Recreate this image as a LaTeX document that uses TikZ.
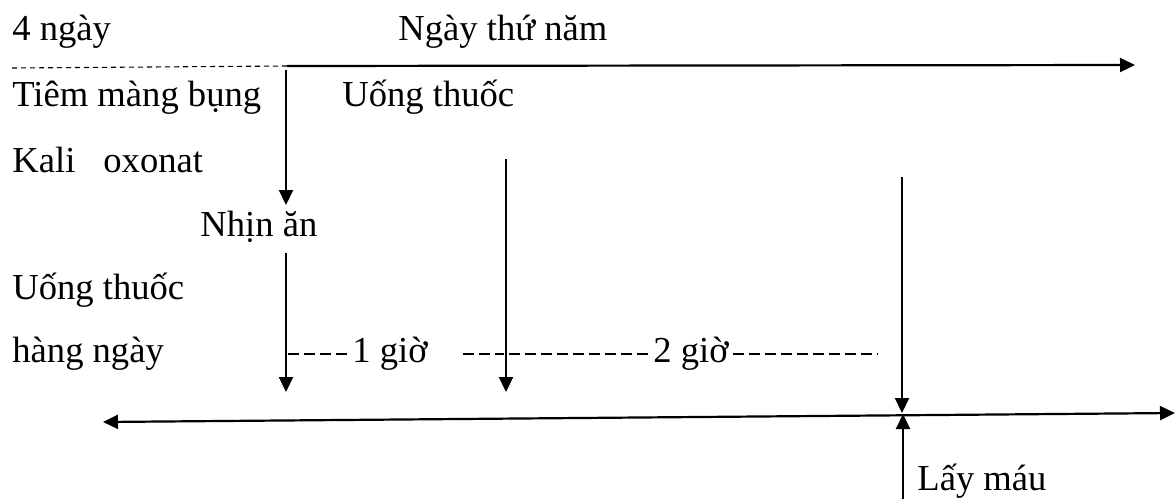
\documentclass[tikz,border=0pt]{standalone}
\usepackage{fontspec}
\setmainfont{Liberation Serif}
\newfontfamily\vietserif{Liberation Serif}
\usetikzlibrary{arrows.meta}
\tikzset{
  txt/.style={anchor=base west, inner sep=0pt, font=\vietserif\fontsize{18.3}{22}\selectfont},
  timeline/.style={-{Triangle[length=7.5pt,width=7pt]}, line width=1.1pt},
  bothline/.style={{Triangle[length=7.5pt,width=7pt]}-{Triangle[length=7.5pt,width=7pt]}, line width=1.1pt},
  stepedge/.style={-{Triangle[length=7.5pt,width=7pt]}, line width=1.1pt},
  prehead/.style={dash pattern=on 2.6pt off 1.9pt, line width=0.55pt},
  hyphens/.style={dash pattern=on 5.3pt off 2.7pt, line width=0.65pt}
}
\begin{document}
\begin{tikzpicture}[x=0.5pt, y=-0.5pt]
  \useasboundingbox (0,0) rectangle (1175,499);
  \node[txt] (fourdays) at (12,40) {4 ngày};
  \node[txt] (dayfive) at (398,40) {Ngày thứ năm};
  \node[txt] (inject) at (12,106) {Tiêm màng bụng};
  \node[txt] (drugtop) at (342,106) {Uống thuốc};
  \node[txt] (kali) at (12,172) {Kali\hspace{14pt}oxonat};
  \node[txt] (fast) at (200,236) {Nhịn ăn};
  \node[txt] (drugleft) at (12,299) {Uống thuốc};
  \node[txt] (daily) at (12,362) {hàng ngày};
  \node[txt] (hourone) at (352,362) {1 giờ};
  \node[txt] (hourtwo) at (653,362) {2 giờ};
  \node[txt] (blood) at (917,490) {Lấy máu};
  \coordinate (prestart) at (12,68);
  \coordinate (daystart) at (287,66);
  \coordinate (dayend) at (1135,65);
  \coordinate (injtop) at (286,70);
  \coordinate (injbot) at (286,205);
  \coordinate (fasttop) at (286,253);
  \coordinate (fastbot) at (286,392);
  \coordinate (drugtop2) at (506,159);
  \coordinate (drugbot) at (506,392);
  \coordinate (sampletop) at (902,177);
  \coordinate (cross) at (902,413);
  \coordinate (axisleft) at (103,422);
  \coordinate (axisright) at (1175,413);
  \coordinate (bloodbot) at (903,499);
  \coordinate (crossup) at (903,414);
  \coordinate (dashA) at (288,354);
  \coordinate (dashB) at (350,354);
  \coordinate (dashC) at (463,354);
  \coordinate (dashD) at (504,354);
  \coordinate (dashE) at (509,354);
  \coordinate (dashF) at (651,354);
  \coordinate (dashG) at (733,354);
  \coordinate (dashH) at (878,354);
  \draw[prehead] (prestart) -- (daystart);
  \draw[timeline] (daystart) -- (dayend);
  \draw[stepedge] (injtop) -- (injbot);
  \draw[stepedge] (fasttop) -- (fastbot);
  \draw[stepedge] (drugtop2) -- (drugbot);
  \draw[stepedge] (sampletop) -- (cross);
  \draw[bothline] (axisleft) -- (axisright);
  \draw[stepedge] (bloodbot) -- (crossup);
  \draw[hyphens] (dashA) -- (dashB);
  \draw[hyphens] (dashC) -- (dashD);
  \draw[hyphens] (dashE) -- (dashF);
  \draw[hyphens] (dashG) -- (dashH);
\end{tikzpicture}
\end{document}
